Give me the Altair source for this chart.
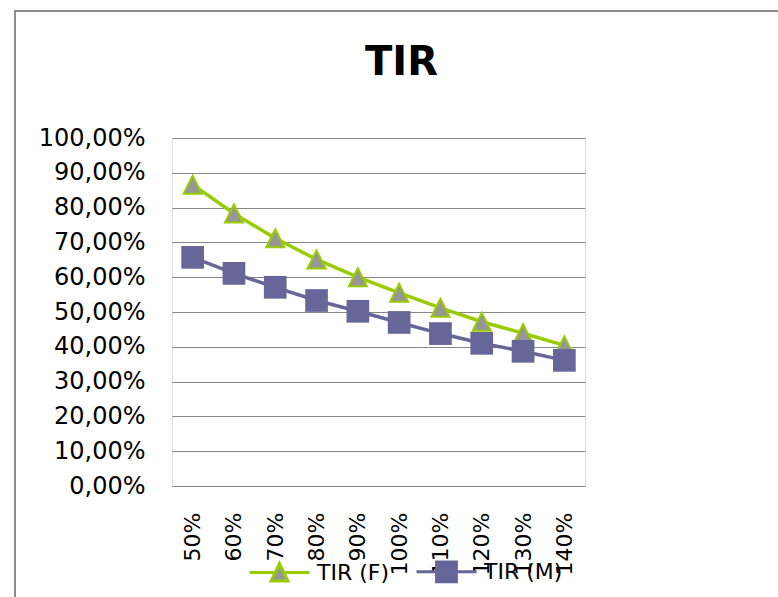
import altair as alt
import pandas as pd

# Categories (x axis) and the two IRR series
categorias = ["50%", "60%", "70%", "80%", "90%", "100%", "110%", "120%", "130%", "140%"]
tir_f = [0.866, 0.783, 0.712, 0.651, 0.600, 0.555, 0.512, 0.472, 0.439, 0.404]
tir_m = [0.657, 0.611, 0.571, 0.533, 0.502, 0.470, 0.438, 0.410, 0.387, 0.361]
series = ["TIR (F)", "TIR (M)"]
y_ticks = [0.0, 0.1, 0.2, 0.3, 0.4, 0.5, 0.6, 0.7, 0.8, 0.9, 1.0]

VERDE = "#99CC00"
GRIS = "#969696"
MORADO = "#666699"
FONT = "DejaVu Sans"

df = pd.DataFrame(
    {
        "cat": categorias * 2,
        "valor": tir_f + tir_m,
        "serie": [series[0]] * len(categorias) + [series[1]] * len(categorias),
    }
)

W, H = 413, 348
PAD = {"left": 172, "top": 138, "right": 193, "bottom": 111}

x_enc = alt.X(
    "cat:N",
    sort=categorias,
    title=None,
    axis=alt.Axis(
        labelAngle=-90,
        labelAlign="right",
        labelBaseline="middle",
        labelPadding=26,
        labelFont=FONT,
        labelFontSize=22,
        labelColor="#000000",
        domain=False,
        ticks=False,
        grid=False,
    ),
)
y_enc = alt.Y(
    "valor:Q",
    scale=alt.Scale(domain=[0, 1], nice=False),
    title=None,
    axis=alt.Axis(
        values=y_ticks,
        labelExpr="replace(format(datum.value, '.2%'), '.', ',')",
        labelFont=FONT,
        labelFontSize=24,
        labelColor="#000000",
        labelPadding=27,
        domain=False,
        ticks=False,
        grid=True,
        gridColor="#868686",
        gridWidth=1,
    ),
)

base = alt.Chart(df).encode(x=x_enc, y=y_enc)

linea_f = base.transform_filter(alt.datum.serie == series[0]).mark_line(
    color=VERDE, strokeWidth=3.5
)
linea_m = base.transform_filter(alt.datum.serie == series[1]).mark_line(
    color=MORADO, strokeWidth=3.5
)
puntos_f = base.transform_filter(alt.datum.serie == series[0]).mark_point(
    shape="M0,-1L1,1L-1,1Z",
    size=324,
    filled=True,
    fill=GRIS,
    stroke=VERDE,
    strokeWidth=2,
    opacity=1,
)
puntos_m = base.transform_filter(alt.datum.serie == series[1]).mark_square(
    size=515, color=MORADO, opacity=1
)

# Legend symbols: a line segment with the series marker on it
sym_f = "M-1,0L-0.15,0M0.15,0L1,0M0,-0.3L0.28,0.28L-0.28,0.28Z"
sym_m = "M-1,0L1,0M-0.33,-0.33L0.33,-0.33L0.33,0.33L-0.33,0.33Z"
leyenda = alt.Legend(
    title=None,
    orient="none",
    direction="horizontal",
    legendX=76,
    legendY=402,
    symbolSize=3600,
    symbolStrokeWidth=3,
    symbolOpacity=1,
    labelFont=FONT,
    labelFontSize=22,
    labelColor="#000000",
    labelOffset=6,
    columnPadding=20,
    padding=0,
)
capa_leyenda = base.mark_point(filled=True, opacity=0).encode(
    shape=alt.Shape("serie:N", scale=alt.Scale(domain=series, range=[sym_f, sym_m]), legend=leyenda),
    fill=alt.Fill("serie:N", scale=alt.Scale(domain=series, range=[GRIS, MORADO]), legend=leyenda),
    stroke=alt.Stroke("serie:N", scale=alt.Scale(domain=series, range=[VERDE, MORADO]), legend=leyenda),
)

# Outer chart frame
marco = alt.Chart(pd.DataFrame({"k": [0]})).mark_rect(
    fill=None, stroke="#8C8C8C", strokeWidth=2
).encode(
    x=alt.value(-157),
    x2=alt.value(W + PAD["right"] + 20),
    y=alt.value(-127),
    y2=alt.value(H + PAD["bottom"] + 20),
)

chart = (
    alt.layer(marco, linea_f, linea_m, puntos_f, puntos_m, capa_leyenda)
    .properties(
        width=W,
        height=H,
        padding=PAD,
        autosize=alt.AutoSizeParams(type="none"),
        title=alt.TitleParams(
            text="TIR",
            font=FONT,
            fontSize=40,
            fontWeight="bold",
            color="#000000",
            anchor="middle",
            frame="group",
            dx=23,
            baseline="alphabetic",
            offset=-105,
        ),
    )
    .configure_view(stroke=None)
    .configure(background="#FFFFFF")
)

chart.save("out.html", embed_options={"renderer": "svg", "actions": False})
